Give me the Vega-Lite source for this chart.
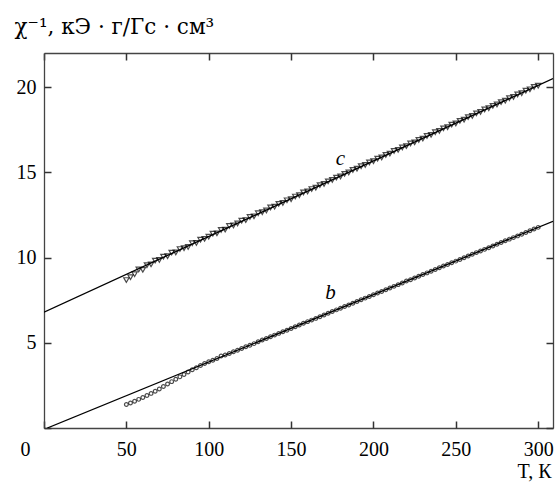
{
  "$schema": "https://vega.github.io/schema/vega-lite/v6.json",
  "width": 509,
  "height": 375,
  "autosize": "none",
  "padding": {"left": 44, "top": 53, "right": 2, "bottom": 56},
  "background": "white",
  "config": {
    "view": {"stroke": null},
    "font": "Liberation Serif",
    "axis": {
      "grid": false,
      "domainColor": "#444444",
      "tickColor": "#333333",
      "domainWidth": 1.3,
      "tickWidth": 1.5,
      "tickSize": 7,
      "labelFont": "Liberation Serif",
      "labelFontSize": 20,
      "labelColor": "black",
      "titleFont": "Liberation Serif",
      "titleFontSize": 20,
      "titleFontWeight": "normal",
      "titleColor": "black"
    }
  },
  "datasets": {
    "c": [
      {"T":50,"v":8.68},{"T":52.5,"v":8.85},{"T":55,"v":9.02},{"T":57.5,"v":9.3},{"T":60,"v":9.28},
      {"T":62.5,"v":9.55},{"T":65,"v":9.6},{"T":67.5,"v":9.82},{"T":70,"v":9.86},{"T":72.5,"v":10.05},
      {"T":75,"v":10.08},{"T":77.5,"v":10.29},{"T":80,"v":10.3},{"T":82.5,"v":10.5},{"T":85,"v":10.55},
      {"T":87.5,"v":10.62},{"T":90,"v":10.84},{"T":92.5,"v":10.86},{"T":95,"v":11.05},{"T":97.5,"v":11.1},
      {"T":100,"v":11.22},{"T":102.5,"v":11.4},{"T":105,"v":11.42},{"T":107.5,"v":11.62},{"T":110,"v":11.64},
      {"T":112.5,"v":11.85},{"T":115,"v":11.88},{"T":117.5,"v":12.0},{"T":120,"v":12.16},{"T":122.5,"v":12.2},
      {"T":125,"v":12.38},{"T":127.5,"v":12.42},{"T":130,"v":12.6},{"T":132.5,"v":12.66},{"T":135,"v":12.76},
      {"T":137.5,"v":12.94},{"T":140,"v":12.98},{"T":142.5,"v":13.15},{"T":145,"v":13.2},{"T":147.5,"v":13.36},
      {"T":150,"v":13.42},{"T":152.5,"v":13.58},{"T":155,"v":13.66},{"T":157.5,"v":13.82},{"T":160,"v":13.88},
      {"T":162.5,"v":14.02},{"T":165,"v":14.1},{"T":167.5,"v":14.25},{"T":170,"v":14.32},{"T":172.5,"v":14.47},
      {"T":175,"v":14.55},{"T":177.5,"v":14.69},{"T":180,"v":14.76},{"T":182.5,"v":14.91},{"T":185,"v":14.99},
      {"T":187.5,"v":15.14},{"T":190,"v":15.21},{"T":192.5,"v":15.36},{"T":195,"v":15.43},{"T":197.5,"v":15.58},
      {"T":200,"v":15.65},{"T":202.5,"v":15.8},{"T":205,"v":15.87},{"T":207.5,"v":16.02},{"T":210,"v":16.1},
      {"T":212.5,"v":16.25},{"T":215,"v":16.32},{"T":217.5,"v":16.46},{"T":220,"v":16.54},{"T":222.5,"v":16.69},
      {"T":225,"v":16.76},{"T":227.5,"v":16.9},{"T":230,"v":16.98},{"T":232.5,"v":17.13},{"T":235,"v":17.2},
      {"T":237.5,"v":17.35},{"T":240,"v":17.43},{"T":242.5,"v":17.58},{"T":245,"v":17.65},{"T":247.5,"v":17.8},
      {"T":250,"v":17.87},{"T":252.5,"v":18.02},{"T":255,"v":18.09},{"T":257.5,"v":18.24},{"T":260,"v":18.31},
      {"T":262.5,"v":18.46},{"T":265,"v":18.54},{"T":267.5,"v":18.69},{"T":270,"v":18.76},{"T":272.5,"v":18.9},
      {"T":275,"v":18.98},{"T":277.5,"v":19.12},{"T":280,"v":19.2},{"T":282.5,"v":19.35},{"T":285,"v":19.42},
      {"T":287.5,"v":19.57},{"T":290,"v":19.64},{"T":292.5,"v":19.79},{"T":295,"v":19.87},{"T":297.5,"v":20.01},
      {"T":300,"v":20.08}
    ],
    "b": [
      {"T":50,"v":1.38},{"T":52.5,"v":1.47},{"T":55,"v":1.57},{"T":57.5,"v":1.68},{"T":60,"v":1.79},
      {"T":62.5,"v":1.91},{"T":65,"v":2.03},{"T":67.5,"v":2.16},{"T":70,"v":2.29},{"T":72.5,"v":2.44},
      {"T":75,"v":2.58},{"T":77.5,"v":2.72},{"T":80,"v":2.86},{"T":82.5,"v":3.0},{"T":85,"v":3.14},
      {"T":87.5,"v":3.28},{"T":90,"v":3.42},{"T":92.5,"v":3.54},{"T":95,"v":3.67},{"T":97.5,"v":3.78},
      {"T":100,"v":3.89},{"T":102.5,"v":3.98},{"T":105,"v":4.08},{"T":107.5,"v":4.22},{"T":110,"v":4.28},
      {"T":112.5,"v":4.37},{"T":115,"v":4.47},{"T":117.5,"v":4.56},{"T":120,"v":4.66},{"T":122.5,"v":4.77},
      {"T":125,"v":4.85},{"T":127.5,"v":4.95},{"T":130,"v":5.06},{"T":132.5,"v":5.16},{"T":135,"v":5.25},
      {"T":137.5,"v":5.35},{"T":140,"v":5.45},{"T":142.5,"v":5.55},{"T":145,"v":5.65},{"T":147.5,"v":5.74},
      {"T":150,"v":5.84},{"T":152.5,"v":5.94},{"T":155,"v":6.04},{"T":157.5,"v":6.14},{"T":160,"v":6.24},
      {"T":162.5,"v":6.33},{"T":165,"v":6.43},{"T":167.5,"v":6.53},{"T":170,"v":6.63},{"T":172.5,"v":6.73},
      {"T":175,"v":6.83},{"T":177.5,"v":6.93},{"T":180,"v":7.03},{"T":182.5,"v":7.13},{"T":185,"v":7.22},
      {"T":187.5,"v":7.32},{"T":190,"v":7.42},{"T":192.5,"v":7.52},{"T":195,"v":7.62},{"T":197.5,"v":7.72},
      {"T":200,"v":7.82},{"T":202.5,"v":7.92},{"T":205,"v":8.01},{"T":207.5,"v":8.11},{"T":210,"v":8.21},
      {"T":212.5,"v":8.31},{"T":215,"v":8.41},{"T":217.5,"v":8.51},{"T":220,"v":8.62},{"T":222.5,"v":8.7},
      {"T":225,"v":8.8},{"T":227.5,"v":8.9},{"T":230,"v":9.0},{"T":232.5,"v":9.1},{"T":235,"v":9.2},
      {"T":237.5,"v":9.3},{"T":240,"v":9.4},{"T":242.5,"v":9.5},{"T":245,"v":9.59},{"T":247.5,"v":9.69},
      {"T":250,"v":9.79},{"T":252.5,"v":9.89},{"T":255,"v":9.99},{"T":257.5,"v":10.09},{"T":260,"v":10.19},
      {"T":262.5,"v":10.29},{"T":265,"v":10.38},{"T":267.5,"v":10.48},{"T":270,"v":10.58},{"T":272.5,"v":10.68},
      {"T":275,"v":10.78},{"T":277.5,"v":10.88},{"T":280,"v":10.98},{"T":282.5,"v":11.08},{"T":285,"v":11.17},
      {"T":287.5,"v":11.27},{"T":290,"v":11.37},{"T":292.5,"v":11.47},{"T":295,"v":11.57},{"T":297.5,"v":11.67},
      {"T":300,"v":11.77}
    ],
    "fit": [
      {"s":"c","T":0,"v":6.8},{"s":"c","T":309,"v":20.5},
      {"s":"b","T":2,"v":0},{"s":"b","T":309,"v":12.13}
    ],
    "lbl": [
      {"T":180,"v":15.8,"t":"c"},
      {"T":174,"v":7.9,"t":"b"}
    ]
  },
  "resolve": {"axis": {"x": "independent", "y": "independent"}},
  "layer": [
    {
      "data": {"name": "fit"},
      "mark": {"type": "line", "color": "black", "strokeWidth": 1.3, "clip": true},
      "encoding": {
        "x": {"field": "T", "type": "quantitative", "scale": {"domain": [0, 309], "nice": false, "zero": false},
          "axis": {"orient": "bottom", "values": [0, 50, 100, 150, 200, 250, 300], "ticks": false, "labelPadding": 11,
            "labelOffset": {"condition": {"test": "datum.value == 0", "value": -24}, "value": 0},
            "title": "T, К", "titleAlign": "right", "titleAnchor": "end", "titleX": 507, "titleY": 49, "titleBaseline": "alphabetic"}},
        "y": {"field": "v", "type": "quantitative", "scale": {"domain": [0, 22], "nice": false, "zero": false},
          "axis": {"orient": "left", "values": [0, 5, 10, 15, 20], "ticks": false, "labelPadding": 8,
            "labelExpr": "datum.value == 0 ? '' : datum.label",
            "title": "χ⁻¹,  кЭ · г/Гс · см³", "titleFont": "DejaVu Serif", "titleFontSize": 21.5, "titleAngle": 0, "titleAlign": "left", "titleBaseline": "alphabetic", "titleX": -30, "titleY": -20}},
        "detail": {"field": "s"}
      }
    },
    {
      "data": {"name": "c"},
      "mark": {"type": "point", "shape": "triangle-down", "filled": false, "color": "black", "strokeWidth": 1.2, "size": 28},
      "encoding": {
        "x": {"field": "T", "type": "quantitative",
          "axis": {"orient": "top", "values": [0, 50, 100, 150, 200, 250, 300], "labels": false, "ticks": false, "title": null}},
        "y": {"field": "v", "type": "quantitative",
          "axis": {"orient": "right", "values": [0, 5, 10, 15, 20], "labels": false, "ticks": false, "title": null}}
      }
    },
    {
      "data": {"name": "b"},
      "mark": {"type": "point", "shape": "circle", "filled": false, "color": "black", "strokeWidth": 1.2, "size": 14},
      "encoding": {
        "x": {"field": "T", "type": "quantitative",
          "axis": {"orient": "bottom", "values": [0, 50, 100, 150, 200, 250, 300], "labels": false, "domain": false, "offset": -7, "title": null}},
        "y": {"field": "v", "type": "quantitative",
          "axis": {"orient": "left", "values": [0, 5, 10, 15, 20], "labels": false, "domain": false, "offset": -7, "title": null}}
      }
    },
    {
      "data": {"name": "lbl"},
      "mark": {"type": "text", "font": "Liberation Serif", "fontStyle": "italic", "fontSize": 21, "color": "black"},
      "encoding": {
        "x": {"field": "T", "type": "quantitative",
          "axis": {"orient": "top", "values": [0, 50, 100, 150, 200, 250, 300], "labels": false, "domain": false, "offset": -7, "title": null}},
        "y": {"field": "v", "type": "quantitative",
          "axis": {"orient": "right", "values": [0, 5, 10, 15, 20], "labels": false, "domain": false, "offset": -7, "title": null}},
        "text": {"field": "t"}
      }
    }
  ]
}
